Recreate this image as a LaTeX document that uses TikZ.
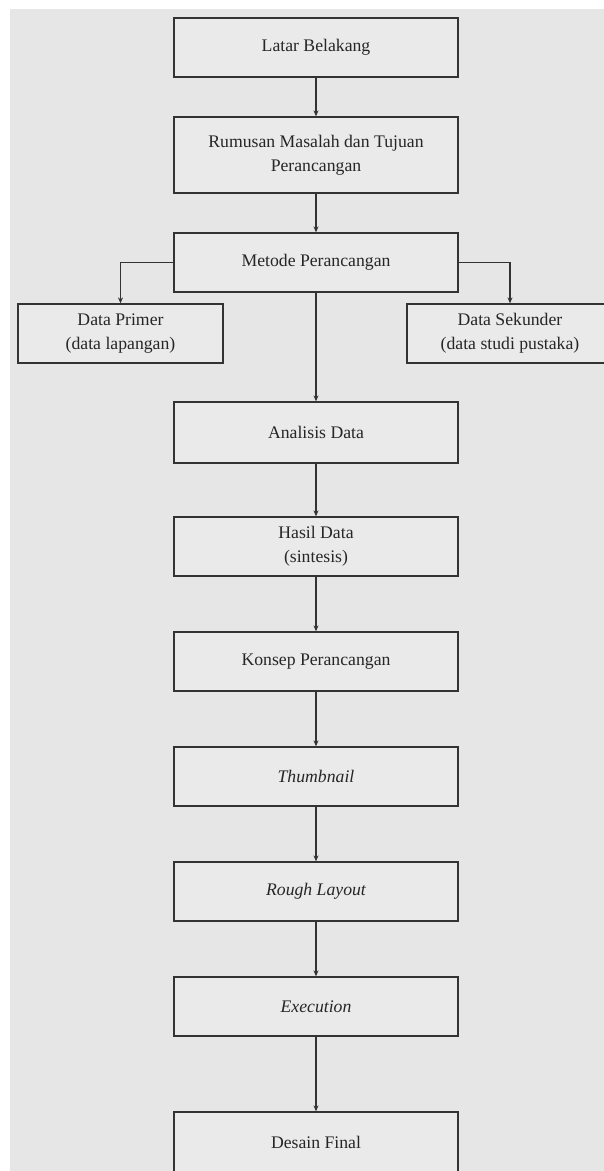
\documentclass[tikz,border=0pt]{standalone}
\usepackage{fontspec}
\setmainfont{Liberation Serif}
\usetikzlibrary{arrows.meta}
\definecolor{bggray}{HTML}{E6E6E6}
\definecolor{boxgray}{HTML}{EAEAEA}
\definecolor{linegray}{HTML}{333333}
\tikzset{
  stepbox/.style={draw=linegray, line width=1.3pt, fill=boxgray, rectangle, inner sep=0pt,
    align=center, font=\fontsize{17.7}{24}\selectfont, text=black!85},
  mainbox/.style={stepbox, minimum width=284pt, minimum height=59pt},
  sidebox/.style={stepbox, minimum width=205pt, minimum height=59pt},
  flow/.style={draw=linegray, line width=1.1pt, -{Stealth[length=6pt,width=5pt]}}
}
\begin{document}
\begin{tikzpicture}[x=1pt,y=-1pt]
\useasboundingbox (0,0) rectangle (604,1171);
\fill[white] (0,0) rectangle (604,1171);
\fill[bggray] (10,9) rectangle (604,1171);
\node[mainbox] (latar) at (316,47.5) {Latar Belakang};
\node[mainbox, minimum height=76pt] (rumusan) at (316,155) {Rumusan Masalah dan Tujuan\\Perancangan};
\node[mainbox] (metode) at (316,262.5) {Metode Perancangan};
\node[sidebox] (primer) at (120.5,333.5) {Data Primer\\(data lapangan)};
\node[sidebox, minimum width=206pt] (sekunder) at (510,333.5) {Data Sekunder\\(data studi pustaka)};
\node[mainbox, minimum height=61pt] (analisis) at (316,432.5) {Analisis Data};
\node[mainbox] (hasil) at (316,546.5) {Hasil Data\\(sintesis)};
\node[mainbox] (konsep) at (316,661.5) {Konsep Perancangan};
\node[mainbox] (thumb) at (316,776.5) {\itshape Thumbnail};
\node[mainbox] (rough) at (316,891.5) {\itshape Rough Layout};
\node[mainbox] (exec) at (316,1006.5) {\itshape Execution};
\node[mainbox, minimum height=60pt] (final) at (316,1142) {Desain Final};
\draw[flow] (latar) -- (rumusan);
\draw[flow] (rumusan) -- (metode);
\draw[flow] (metode.west) -| (primer.north);
\draw[flow] (metode.east) -| (sekunder.north);
\draw[flow] (metode) -- (analisis);
\draw[flow] (analisis) -- (hasil);
\draw[flow] (hasil) -- (konsep);
\draw[flow] (konsep) -- (thumb);
\draw[flow] (thumb) -- (rough);
\draw[flow] (rough) -- (exec);
\draw[flow] (exec) -- (final);
\end{tikzpicture}
\end{document}
